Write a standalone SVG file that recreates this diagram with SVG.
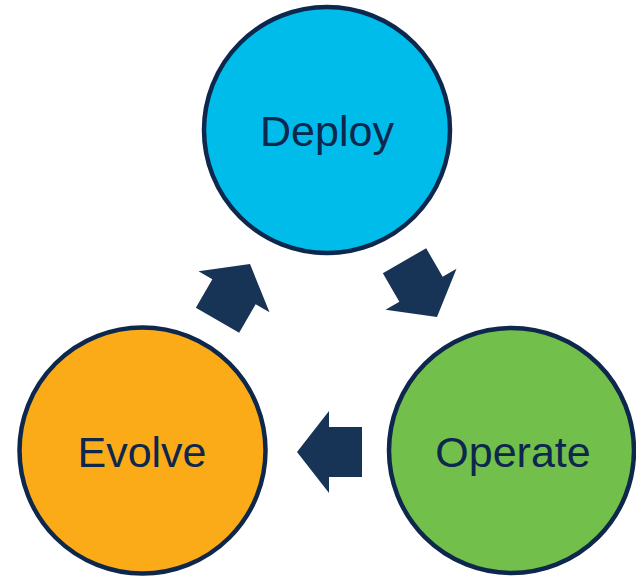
<svg xmlns="http://www.w3.org/2000/svg" width="636" height="577" viewBox="0 0 636 577">
  <style>
    .node circle { stroke: #0d274d; stroke-width: 4.5; }
    .node text { font-family: "Liberation Sans", Arial, sans-serif; font-size: 43px; fill: #0d274d; text-anchor: middle; }
    .arrow { fill: #173457; }
  </style>
  <defs>
    <!-- block arrow, tip at origin, pointing left -->
    <path id="blockArrow" d="M0,0 L32,-41 L32,-25 L65,-25 L65,25 L32,25 L32,41 Z"/>
  </defs>
  <rect width="636" height="577" fill="#ffffff"/>
  <g id="connectors">
    <use href="#blockArrow" class="arrow" transform="translate(437,317) rotate(-120)"/>
    <use href="#blockArrow" class="arrow" transform="translate(297,452)"/>
    <use href="#blockArrow" class="arrow" transform="translate(250,264) rotate(120)"/>
  </g>
  <g id="deploy" class="node">
    <circle cx="327" cy="130" r="123" fill="#00bceb"/>
    <text x="327" y="146">Deploy</text>
  </g>
  <g id="operate" class="node">
    <circle cx="511.5" cy="450.5" r="122.5" fill="#72bf4b"/>
    <text x="513" y="467">Operate</text>
  </g>
  <g id="evolve" class="node">
    <circle cx="142.5" cy="450.5" r="123" fill="#fbab18"/>
    <text x="142" y="467">Evolve</text>
  </g>
</svg>
